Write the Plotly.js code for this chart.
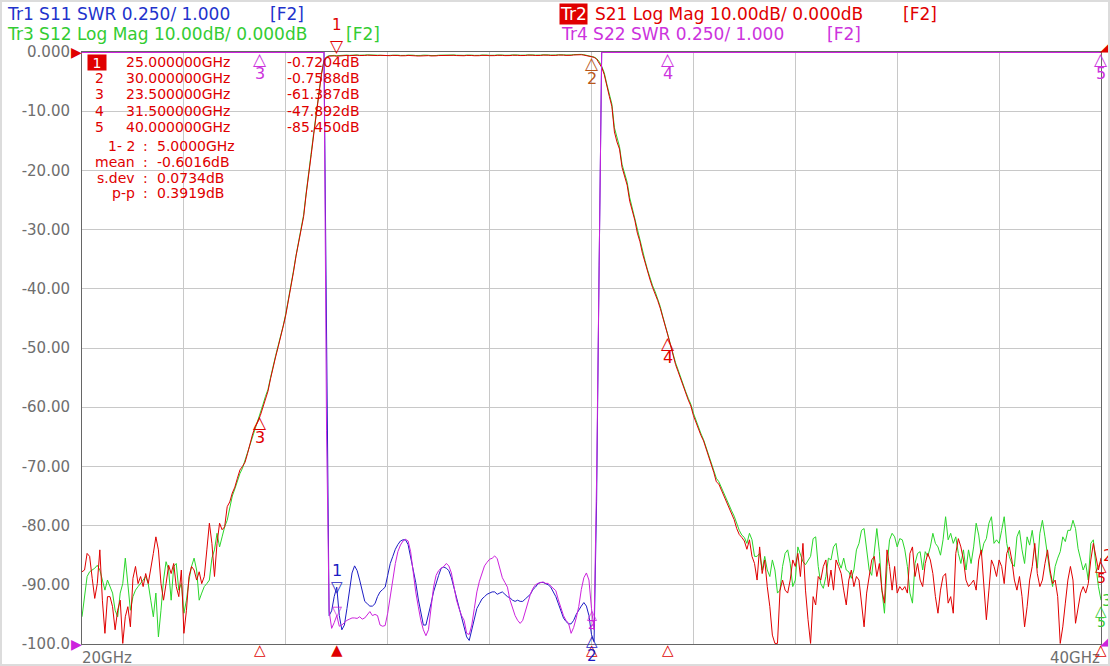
<!DOCTYPE html>
<html><head><meta charset="utf-8">
<script src="https://cdn.plot.ly/plotly-3.0.1.min.js"></script>
<style>
html,body{margin:0;padding:0;background:#fff;}
#chart{width:1110px;height:666px;}
#frame{position:absolute;left:0;top:0;width:1106px;height:662px;border:2px solid #dcdcdc;pointer-events:none;}
</style></head>
<body><div id="chart"></div><div id="frame"></div>
<script>
// ---------------- data ----------------
const SWEEP_START_GHZ = 20;
const SWEEP_STEP_GHZ = 0.05;

// Tr2 S21 Log Mag (dB), 20.00 .. 40.00 GHz, 0.05 GHz step (rows of 0.5 GHz)
const s21 = [
/*20.0*/ -87.8,-87.5,-84.7,-85.2,-88.9,-92.3,-89.8,-84.1,-92.6,-98.2,
/*20.5*/ -92.0,-92.0,-93.7,-97.6,-94.3,-92.6,-99.9,-95.4,-93.7,-97.1,
/*21.0*/ -88.9,-86.9,-89.8,-88.6,-90.3,-88.1,-89.8,-87.5,-84.7,-81.9,
/*21.5*/ -84.1,-89.8,-92.6,-89.8,-86.7,-88.1,-86.4,-90.3,-92.0,-87.5,
/*22.0*/ -98.2,-94.3,-88.6,-86.9,-87.5,-89.2,-87.8,-89.8,-88.6,-84.1,
/*22.5*/ -79.6,-83.0,-88.6,-83.0,-79.6,-80.7,-80.2,-76.8,-76.0,-74.5,
/*23.0*/ -73.5,-72.0,-70.6,-70.0,-69.3,-67.8,-66.1,-64.5,-63.3,-62.5,
/*23.5*/ -61.4,-60.0,-58.5,-57.3,-55.2,-53.2,-51.5,-49.8,-48.2,-46.3,
/*24.0*/ -44.4,-42.2,-39.5,-37.2,-34.5,-32.3,-30.0,-27.8,-24.0,-20.2,
/*24.5*/ -17.3,-13.8,-10.5,-7.0,-3.8,-1.5,-0.9,-0.70,-0.62,-0.66,
/*25.0*/ -0.72,-0.68,-0.60,-0.55,-0.58,-0.62,-0.57,-0.52,-0.55,-0.60,
/*25.5*/ -0.63,-0.58,-0.54,-0.57,-0.61,-0.64,-0.60,-0.56,-0.59,-0.63,
/*26.0*/ -0.66,-0.62,-0.57,-0.55,-0.59,-0.64,-0.67,-0.63,-0.58,-0.56,
/*26.5*/ -0.60,-0.65,-0.68,-0.64,-0.59,-0.57,-0.61,-0.66,-0.69,-0.65,
/*27.0*/ -0.60,-0.58,-0.62,-0.66,-0.63,-0.59,-0.56,-0.60,-0.64,-0.67,
/*27.5*/ -0.63,-0.58,-0.55,-0.59,-0.63,-0.66,-0.62,-0.57,-0.54,-0.58,
/*28.0*/ -0.62,-0.65,-0.61,-0.56,-0.53,-0.57,-0.61,-0.64,-0.60,-0.55,
/*28.5*/ -0.52,-0.56,-0.60,-0.63,-0.59,-0.54,-0.51,-0.55,-0.59,-0.62,
/*29.0*/ -0.58,-0.53,-0.50,-0.54,-0.58,-0.61,-0.57,-0.52,-0.49,-0.53,
/*29.5*/ -0.57,-0.60,-0.56,-0.50,-0.45,-0.42,-0.46,-0.52,-0.60,-0.68,
/*30.0*/ -0.76,-0.9,-1.2,-1.8,-2.6,-3.8,-5.9,-7.5,-9.2,-13.5,
/*30.5*/ -15.2,-16.4,-19.5,-21.0,-22.5,-25.2,-26.8,-28.4,-30.6,-32.0,
/*31.0*/ -34.0,-35.6,-37.2,-38.5,-39.8,-40.8,-42.0,-43.3,-45.0,-46.6,
/*31.5*/ -47.9,-49.5,-51.2,-52.8,-54.0,-55.3,-56.5,-57.6,-58.8,-59.8,
/*32.0*/ -61.4,-62.6,-63.8,-64.8,-65.7,-67.0,-68.2,-69.3,-71.0,-72.6,
/*32.5*/ -73.0,-74.0,-75.0,-76.2,-77.0,-78.0,-79.0,-80.5,-81.5,-82.0,
/*33.0*/ -82.6,-84.0,-82.4,-85.2,-86.4,-89.2,-83.6,-88.1,-85.8,-90.3,
/*33.5*/ -93.7,-98.5,-99.9,-99.9,-90.9,-89.2,-90.9,-91.4,-89.2,-85.8,
/*34.0*/ -86.9,-84.7,-88.6,-83.0,-90.9,-95.9,-99.9,-92.0,-93.4,-88.6,
/*34.5*/ -89.2,-86.9,-85.8,-90.3,-87.5,-90.9,-85.8,-86.9,-88.1,-90.9,
/*35.0*/ -93.4,-89.2,-87.5,-90.3,-88.6,-89.2,-93.7,-97.1,-91.4,-88.6,
/*35.5*/ -85.8,-85.2,-88.6,-86.4,-90.9,-93.1,-84.1,-86.9,-90.9,-86.9,
/*36.0*/ -91.4,-90.3,-90.9,-90.3,-91.4,-84.7,-83.6,-88.6,-86.4,-89.2,
/*36.5*/ -90.3,-86.4,-84.7,-85.8,-88.1,-92.0,-94.8,-90.9,-88.6,-88.1,
/*37.0*/ -93.1,-92.0,-94.8,-84.7,-82.2,-83.6,-85.8,-89.2,-90.3,-89.8,
/*37.5*/ -89.2,-90.9,-85.8,-84.1,-90.9,-95.9,-90.9,-85.8,-86.9,-88.6,
/*38.0*/ -85.8,-86.9,-89.8,-84.7,-83.6,-85.8,-89.2,-90.9,-88.6,-92.0,
/*38.5*/ -97.1,-93.7,-89.2,-86.9,-83.0,-88.1,-90.3,-89.2,-86.4,-84.1,
/*39.0*/ -87.5,-89.8,-89.2,-92.0,-99.9,-97.1,-93.1,-89.2,-86.9,-89.2,
/*39.5*/ -96.5,-93.7,-91.4,-90.3,-91.4,-89.8,-85.8,-83.0,-85.2,-87.5,
/*40.0*/ -85.45
];

// Tr3 S12 Log Mag (dB), same sweep
const s12 = [
/*20.0*/ -95.4,-92.0,-88.6,-87.8,-87.5,-87.2,-86.7,-87.5,-89.2,-90.9,
/*20.5*/ -89.2,-90.3,-91.4,-94.3,-95.4,-91.4,-89.8,-85.5,-89.8,-94.3,
/*21.0*/ -92.0,-90.9,-90.3,-89.8,-89.2,-88.6,-89.8,-92.6,-95.4,-91.4,
/*21.5*/ -98.8,-94.3,-89.2,-86.1,-87.5,-92.6,-86.9,-86.4,-90.9,-89.8,
/*22.0*/ -94.8,-92.6,-89.2,-86.9,-85.5,-87.5,-92.6,-91.4,-90.3,-89.8,
/*22.5*/ -89.2,-85.5,-84.1,-81.3,-83.6,-81.9,-80.2,-79.1,-76.8,-75.0,
/*23.0*/ -73.8,-72.4,-71.2,-70.3,-69.0,-67.5,-66.0,-64.8,-63.6,-62.3,
/*23.5*/ -61.2,-59.6,-58.2,-57.0,-55.0,-53.0,-51.3,-49.6,-48.0,-46.2,
/*24.0*/ -44.2,-42.0,-39.4,-37.0,-34.4,-32.2,-29.8,-27.5,-23.8,-20.0,
/*24.5*/ -17.0,-13.5,-10.2,-6.8,-3.6,-1.4,-0.8,-0.62,-0.55,-0.58,
/*25.0*/ -0.62,-0.58,-0.52,-0.48,-0.52,-0.56,-0.50,-0.46,-0.49,-0.54,
/*25.5*/ -0.57,-0.52,-0.48,-0.50,-0.55,-0.58,-0.54,-0.50,-0.53,-0.57,
/*26.0*/ -0.60,-0.56,-0.51,-0.49,-0.53,-0.58,-0.61,-0.57,-0.52,-0.50,
/*26.5*/ -0.54,-0.59,-0.62,-0.58,-0.53,-0.51,-0.55,-0.60,-0.63,-0.59,
/*27.0*/ -0.54,-0.52,-0.56,-0.60,-0.57,-0.53,-0.50,-0.54,-0.58,-0.61,
/*27.5*/ -0.57,-0.52,-0.49,-0.53,-0.57,-0.60,-0.56,-0.51,-0.48,-0.52,
/*28.0*/ -0.56,-0.59,-0.55,-0.50,-0.47,-0.51,-0.55,-0.58,-0.54,-0.49,
/*28.5*/ -0.46,-0.50,-0.54,-0.57,-0.53,-0.48,-0.45,-0.49,-0.53,-0.56,
/*29.0*/ -0.52,-0.47,-0.44,-0.48,-0.52,-0.55,-0.51,-0.46,-0.43,-0.47,
/*29.5*/ -0.51,-0.54,-0.50,-0.44,-0.39,-0.36,-0.40,-0.46,-0.54,-0.62,
/*30.0*/ -0.70,-0.85,-1.1,-1.6,-2.4,-3.5,-5.4,-7.0,-8.8,-12.8,
/*30.5*/ -14.6,-16.0,-19.0,-20.6,-22.0,-24.6,-26.4,-28.0,-30.2,-31.6,
/*31.0*/ -33.6,-35.2,-36.8,-38.2,-39.5,-40.5,-41.7,-43.0,-44.7,-46.3,
/*31.5*/ -47.6,-49.2,-50.9,-52.5,-53.7,-55.0,-56.2,-57.4,-58.5,-59.5,
/*32.0*/ -61.0,-62.3,-63.5,-64.5,-65.5,-66.8,-68.0,-69.0,-70.6,-72.0,
/*32.5*/ -72.6,-73.6,-74.6,-75.8,-76.6,-77.5,-78.4,-79.8,-80.8,-81.6,
/*33.0*/ -82.0,-83.0,-81.3,-82.4,-85.2,-85.2,-84.7,-87.5,-85.2,-87.5,
/*33.5*/ -88.6,-85.8,-87.5,-91.4,-90.9,-86.9,-84.7,-84.1,-86.4,-90.3,
/*34.0*/ -89.2,-83.6,-84.7,-86.1,-86.6,-85.8,-85.2,-82.2,-81.9,-86.9,
/*34.5*/ -89.8,-90.6,-88.6,-85.5,-85.8,-83.6,-83.0,-86.1,-87.2,-85.5,
/*35.0*/ -87.5,-87.8,-88.9,-87.5,-84.1,-83.0,-80.8,-80.5,-83.6,-87.5,
/*35.5*/ -88.4,-84.1,-80.5,-84.4,-90.9,-94.8,-86.9,-82.4,-81.3,-81.9,
/*36.0*/ -83.6,-82.2,-82.4,-84.1,-86.9,-91.4,-93.1,-86.4,-84.7,-84.4,
/*36.5*/ -87.5,-84.4,-85.2,-83.6,-81.3,-83.0,-83.6,-85.0,-82.4,-78.5,
/*37.0*/ -82.4,-81.3,-83.0,-81.9,-84.7,-86.4,-84.1,-87.5,-84.1,-86.4,
/*37.5*/ -83.6,-79.6,-81.6,-85.0,-83.0,-82.2,-79.6,-78.5,-83.0,-82.4,
/*38.0*/ -83.0,-80.8,-78.5,-83.0,-85.2,-86.4,-86.9,-81.9,-80.8,-84.1,
/*38.5*/ -86.4,-81.9,-83.3,-80.8,-83.6,-87.2,-81.3,-79.1,-81.9,-85.2,
/*39.0*/ -88.1,-90.3,-86.9,-85.5,-84.4,-81.9,-82.7,-80.8,-80.8,-79.1,
/*39.5*/ -80.5,-83.9,-85.8,-87.5,-86.4,-89.2,-83.0,-82.4,-86.9,-90.3,
/*40.0*/ -92.6
];

// SWR traces (display 1.000 at bottom, 0.250/div): in-band part from 24.75 GHz, 0.05 GHz step
const SWR_START_GHZ = 24.75;
const s11 = [
 3.5,2.2,
 1.12,1.14,1.20,1.24,1.12,1.06,1.08,1.15,1.23,1.30,
 1.33,1.31,1.27,1.22,1.18,1.17,1.16,1.16,1.17,1.20,
 1.22,1.23,1.24,1.29,1.34,1.37,1.40,1.42,1.435,1.44,
 1.44,1.42,1.37,1.31,1.26,1.19,1.13,1.08,1.08,1.12,
 1.17,1.22,1.26,1.29,1.32,1.325,1.32,1.31,1.28,1.24,
 1.20,1.16,1.12,1.07,1.03,1.015,1.06,1.11,1.15,1.17,
 1.19,1.20,1.21,1.215,1.22,1.22,1.21,1.215,1.22,1.21,
 1.20,1.195,1.185,1.18,1.185,1.18,1.18,1.19,1.20,1.21,
 1.23,1.24,1.255,1.26,1.26,1.255,1.25,1.24,1.22,1.20,
 1.17,1.14,1.11,1.095,1.085,1.085,1.10,1.125,1.145,1.16,
 1.175,1.16,1.12,1.04,1.01,
 1.6,2.6,3.5
];
const s22 = [
 3.5,1.9,
 1.14,1.066,1.09,1.12,1.075,1.08,1.09,1.10,1.105,1.11,
 1.11,1.108,1.115,1.105,1.11,1.123,1.137,1.12,1.125,1.12,
 1.08,1.075,1.078,1.13,1.21,1.27,1.34,1.39,1.418,1.435,
 1.442,1.435,1.39,1.30,1.22,1.158,1.10,1.06,1.035,1.06,
 1.14,1.24,1.29,1.31,1.32,1.327,1.34,1.33,1.30,1.24,
 1.186,1.15,1.12,1.10,1.045,1.04,1.08,1.15,1.22,1.265,
 1.30,1.33,1.345,1.358,1.362,1.372,1.36,1.313,1.28,1.26,
 1.24,1.186,1.15,1.12,1.10,1.087,1.10,1.14,1.18,1.21,
 1.235,1.25,1.256,1.26,1.262,1.256,1.256,1.245,1.235,1.225,
 1.186,1.15,1.12,1.10,1.087,1.045,1.07,1.11,1.158,1.23,
 1.28,1.30,1.27,1.15,1.06,
 1.7,2.7,3.5
];
// out-of-band SWR is pinned at the top of the display
const swrClampLowGHz = [20, 24.75];
const swrClampHighGHz = [30.2, 40];
const swrClampValue = [3.5, 3.5];

// marker readout (active trace Tr2)
const markerNums = [1, 2, 3, 4, 5];
const markerGHz = [25, 30, 23.5, 31.5, 40];
const markerDb = [-0.7204, -0.7588, -61.387, -47.892, -85.450];
const statLabels = ['1- 2', 'mean', 's.dev', 'p-p'];
const statValues = [5.0, -0.6016, 0.0734, 0.3919];
const statUnits = ['GHz', 'dB', 'dB', 'dB'];

// axis ticks
const yTickVals = [0, -10, -20, -30, -40, -50, -60, -70, -80, -90, -100];
const yTickText = ['0.000', '-10.00', '-20.00', '-30.00', '-40.00', '-50.00', '-60.00', '-70.00', '-80.00', '-90.00', '-100.0'];
const xStartLabel = '20GHz', xStopLabel = '40GHz';

// ---------------- style ----------------
const FONT = 'DejaVu Sans';
const COL = {
  blueT: '#2233cc', blue: '#1c1cc4', red: '#e00000', greenT: '#33cc33', green: '#2ad62a',
  magT: '#cc33dd', mag: '#cc22dd', brown: '#b8561a', gray: '#6e6e6e', grid: '#c8c8c8', axis: '#666666'
};
const PL = 82, PT = 52, PW = 1019, PH = 592;
const px = X => (X - PL) / PW;
const py = Y => (PT + PH - Y) / PH;
const TRI = 17;

function note(X, Y, text, color, size, xanchor, extra) {
  return Object.assign({
    xref: 'paper', yref: 'paper', x: px(X), y: py(Y), text: text, showarrow: false,
    xanchor: xanchor || 'left', yanchor: 'middle',
    font: {family: FONT, size: size || 17, color: color}
  }, extra || {});
}
function dnote(xv, yv, yref, text, color, size, yshift, xshift) {
  return {
    xref: 'x', yref: yref, x: xv, y: yv, text: text, showarrow: false,
    xanchor: 'center', yanchor: 'middle', yshift: yshift || 0, xshift: xshift || 0,
    font: {family: FONT, size: size, color: color}
  };
}

// ---------------- traces ----------------
const L = (c, w) => ({color: c, width: w || 1});
const traces = [
  {x: swrClampLowGHz, y: swrClampValue, yaxis: 'y2', mode: 'lines', line: L(COL.blue, 2), hoverinfo: 'skip'},
  {x: swrClampHighGHz, y: swrClampValue, yaxis: 'y2', mode: 'lines', line: L(COL.blue, 2), hoverinfo: 'skip'},
  {y: s11, x0: SWR_START_GHZ, dx: SWEEP_STEP_GHZ, yaxis: 'y2', mode: 'lines', line: L(COL.blue), name: 'S11'},
  {x: swrClampLowGHz, y: swrClampValue, yaxis: 'y2', mode: 'lines', line: L(COL.mag, 2), hoverinfo: 'skip'},
  {x: swrClampHighGHz, y: swrClampValue, yaxis: 'y2', mode: 'lines', line: L(COL.mag, 2), hoverinfo: 'skip'},
  {y: s22, x0: SWR_START_GHZ, dx: SWEEP_STEP_GHZ, yaxis: 'y2', mode: 'lines', line: L(COL.mag), name: 'S22'},
  {y: s12, x0: SWEEP_START_GHZ, dx: SWEEP_STEP_GHZ, mode: 'lines', line: L(COL.green), name: 'S12'},
  {y: s21, x0: SWEEP_START_GHZ, dx: SWEEP_STEP_GHZ, mode: 'lines', line: L(COL.red), name: 'S21'}
];

// ---------------- annotations ----------------
const ann = [];
// headers
ann.push(note(5, 14, 'Tr1 S11 SWR 0.250/ 1.000', COL.blueT));
ann.push(note(268, 14, '[F2]', COL.blueT));
ann.push(note(5, 34, 'Tr3 S12 Log Mag 10.00dB/ 0.000dB', COL.greenT));
ann.push(note(344, 34, '[F2]', COL.greenT));
ann.push(note(559, 14, 'Tr2', '#ffffff', 17, 'left', {bgcolor: COL.red, borderpad: 0}));
ann.push(note(593, 14, 'S21 Log Mag 10.00dB/ 0.000dB', COL.red));
ann.push(note(901, 14, '[F2]', COL.red));
ann.push(note(559, 34, 'Tr4 S22 SWR 0.250/ 1.000', COL.magT));
ann.push(note(825, 34, '[F2]', COL.magT));

// marker table
const fmtDb = v => (Math.abs(v) < 10 ? v.toFixed(4) : v.toFixed(3)) + 'dB';
markerNums.forEach((n, i) => {
  const Y = 62 + i * 16.2;
  if (i === 0) ann.push(note(97, Y, String(n), '#ffffff', 14, 'center', {bgcolor: COL.red, width: 18, height: 15, borderpad: 0}));
  else ann.push(note(99, Y, String(n), COL.red, 14, 'center'));
  ann.push(note(124, Y, markerGHz[i].toFixed(6) + 'GHz', COL.red, 14, 'left'));
  ann.push(note(362, Y, fmtDb(markerDb[i]), COL.red, 14, 'right'));
});
statLabels.forEach((s, j) => {
  const Y = 146 + j * 15.8;
  ann.push(note(137, Y, s, COL.red, 14, 'right'));
  ann.push(note(145, Y, ':', COL.red, 14, 'center'));
  ann.push(note(155, Y, statValues[j].toFixed(4) + statUnits[j], COL.red, 14, 'left'));
});

// x start / stop labels
ann.push(note(80, 658, xStartLabel, COL.gray, 15, 'left'));
ann.push(note(1102, 658, xStopLabel, COL.gray, 15, 'right'));

// reference-position indicators
ann.push({xref: 'paper', yref: 'y', x: 0, y: 0, xanchor: 'right', yanchor: 'middle', text: '▶', showarrow: false, font: {family: FONT, size: 14, color: COL.red}, xshift: 2});
ann.push({xref: 'paper', yref: 'y', x: 0, y: -100, xanchor: 'right', yanchor: 'middle', text: '▶', showarrow: false, font: {family: FONT, size: 14, color: COL.mag}, xshift: 2});
ann.push(note(1105, 46, '◢', COL.red, 13, 'center'));
ann.push(note(1105, 640, '◢', COL.mag, 13, 'center'));

// marker stimulus indicators under the x axis
markerGHz.forEach((f, i) => {
  ann.push({xref: 'x', yref: 'paper', x: f, y: 0, text: i === 0 ? '▲' : '△', showarrow: false,
    xanchor: 'center', yanchor: 'middle', yshift: -6, font: {family: FONT, size: 15, color: COL.red}});
});

// markers on S21 / S12
ann.push(dnote(markerGHz[0], markerDb[0], 'y', '▽', COL.red, TRI, 10));
ann.push(dnote(markerGHz[0], markerDb[0], 'y', String(markerNums[0]), COL.red, 15, 31));
[1, 2, 3].forEach(i => {
  const c = i === 1 ? COL.brown : COL.red;
  ann.push(dnote(markerGHz[i], markerDb[i], 'y', '△', c, TRI, -7));
  ann.push(dnote(markerGHz[i], markerDb[i], 'y', String(markerNums[i]), c, 16, -22));
});
// right-edge marker 5 on S21 and S12
ann.push(dnote(markerGHz[4], markerDb[4], 'y', '2', COL.red, 16, 2, 7));
ann.push(dnote(markerGHz[4], markerDb[4], 'y', '△', COL.red, 15, -8));
ann.push(dnote(markerGHz[4], markerDb[4], 'y', '5', COL.red, 14, -20));
const s12End = s12[s12.length - 1];
ann.push(dnote(markerGHz[4], s12End, 'y', '3', COL.greenT, 16, 0, 6));
ann.push(dnote(markerGHz[4], s12End, 'y', '△', COL.greenT, 15, -11));
ann.push(dnote(markerGHz[4], s12End, 'y', '5', COL.greenT, 14, -22));

// SWR markers: 3, 4, 5 are pinned at the top of the display
[2, 3, 4].forEach(i => {
  ann.push(dnote(markerGHz[i], swrClampValue[0], 'y2', '△', COL.magT, TRI, -7));
  ann.push(dnote(markerGHz[i], swrClampValue[0], 'y2', String(markerNums[i]), COL.magT, 16, -21));
});
// SWR markers 1 and 2
const swrIdx = f => Math.round((f - SWR_START_GHZ) / SWEEP_STEP_GHZ);
const m1 = swrIdx(markerGHz[0]), m2 = swrIdx(markerGHz[1]);
ann.push(dnote(markerGHz[0], s11[m1], 'y2', '▽', COL.blue, 15, 0));
ann.push(dnote(markerGHz[0], s11[m1], 'y2', '1', COL.blue, 16, 17));
ann.push(dnote(markerGHz[0], s22[m1], 'y2', '▽', COL.mag, 13, 5));
ann.push(dnote(markerGHz[1], s11[m2], 'y2', '△', COL.blue, 15, -6));
ann.push(dnote(markerGHz[1], s11[m2], 'y2', '2', COL.blue, 15, -21));
ann.push(dnote(markerGHz[1], s22[m2], 'y2', '△', COL.mag, 13, -6));
ann.push(dnote(markerGHz[1], s22[m2], 'y2', '2', COL.mag, 12, -17));

// ---------------- layout ----------------
const layout = {
  width: 1110, height: 666,
  margin: {l: PL, r: 1110 - PL - PW, t: PT, b: 666 - PT - PH, pad: 0},
  paper_bgcolor: '#ffffff', plot_bgcolor: '#ffffff', showlegend: false,
  xaxis: {
    range: [20, 40], tick0: 20, dtick: 2, showgrid: true, gridcolor: COL.grid, gridwidth: 1,
    showticklabels: false, ticks: '', zeroline: false, showline: true, linecolor: COL.axis,
    linewidth: 1, mirror: true, fixedrange: true
  },
  yaxis: {
    range: [-100, 0], tickvals: yTickVals, ticktext: yTickText, showgrid: true, gridcolor: COL.grid,
    gridwidth: 1, ticks: '', zeroline: false, showline: true, linecolor: COL.axis, linewidth: 1,
    mirror: true, ticklabelstandoff: 8, tickfont: {family: FONT, size: 15, color: COL.gray}, fixedrange: true
  },
  yaxis2: {range: [1, 3.5], overlaying: 'y', visible: false, fixedrange: true},
  annotations: ann
};

Plotly.newPlot('chart', traces, layout, {displayModeBar: false, staticPlot: true});
</script>
</body></html>
